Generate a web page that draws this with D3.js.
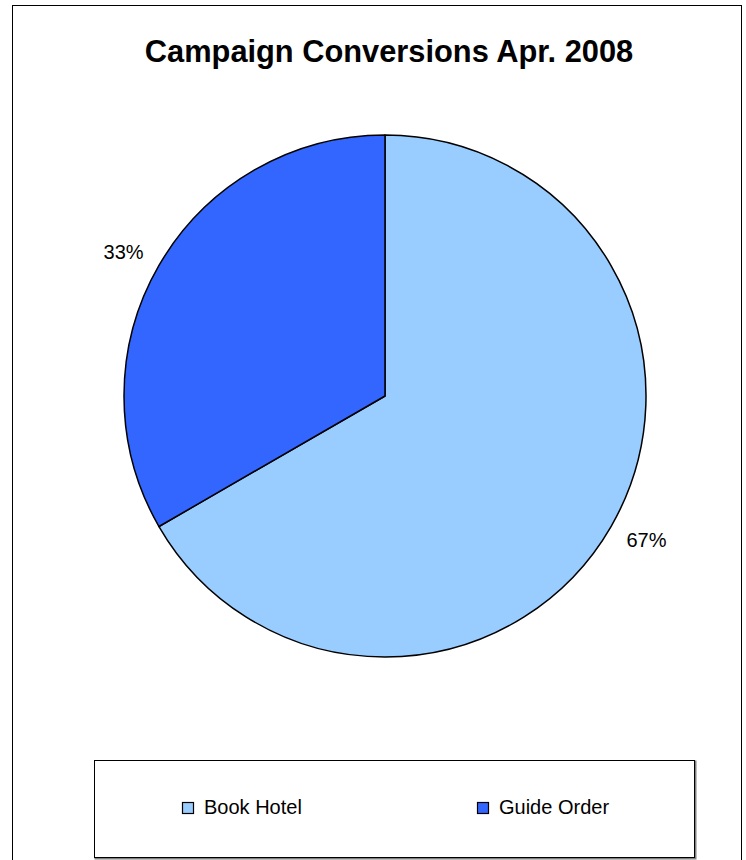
<!DOCTYPE html>
<html>
<head>
<meta charset="utf-8">
<script src="https://cdn.jsdelivr.net/npm/d3@7"></script>
<style>
  html, body { margin: 0; padding: 0; background: #fff; }
  svg { display: block; font-family: "Liberation Sans", Arial, sans-serif; }
</style>
</head>
<body>
<svg id="chart" width="746" height="860"></svg>
<script>
const title = "Campaign Conversions Apr. 2008";
const categories = ["Book Hotel", "Guide Order"];
const values = [134, 67];
const colors = ["#99CCFF", "#3366FF"];

const svg = d3.select("#chart");

// outer chart border
svg.append("rect")
  .attr("x", 12.5).attr("y", 5.5)
  .attr("width", 729).attr("height", 870)
  .attr("fill", "#fff").attr("stroke", "#000").attr("stroke-width", 1);

// title
svg.append("text")
  .attr("x", 389).attr("y", 62)
  .attr("text-anchor", "middle")
  .attr("font-size", 30.8).attr("font-weight", "bold")
  .attr("fill", "#000")
  .text(title);

const cx = 385, cy = 396, R = 261;
const data = categories.map((c, i) => ({ name: c, value: values[i], color: colors[i] }));
const total = d3.sum(values);

const pie = d3.pie().sort(null).value(d => d.value);
const arcs = pie(data);
const arc = d3.arc().innerRadius(0).outerRadius(R);
const labelArc = d3.arc().innerRadius(288).outerRadius(288);

const g = svg.append("g").attr("transform", `translate(${cx},${cy})`);
g.selectAll("path.slice")
  .data(arcs)
  .join("path")
  .attr("class", "slice")
  .attr("d", arc)
  .attr("fill", d => d.data.color)
  .attr("stroke", "#000")
  .attr("stroke-width", 1.5)
  .attr("stroke-linejoin", "round");

const fmt = d3.format(".0%");
g.selectAll("text.lbl")
  .data(arcs)
  .join("text")
  .attr("class", "lbl")
  .attr("transform", d => {
    const [x, y] = labelArc.centroid(d);
    return `translate(${x + Math.sign(x) * 12},${y})`;
  })
  .attr("text-anchor", "middle")
  .attr("dy", "0.35em")
  .attr("font-size", 20)
  .attr("fill", "#000")
  .text(d => fmt(d.data.value / total));

// legend
const lx = 94, ly = 760, lw = 600, lh = 97;
svg.append("rect")
  .attr("x", lx + 1.5).attr("y", ly + 1.5)
  .attr("width", lw).attr("height", lh)
  .attr("fill", "none").attr("stroke", "#808080").attr("stroke-width", 2);
svg.append("rect")
  .attr("x", lx + 0.5).attr("y", ly + 0.5)
  .attr("width", lw).attr("height", lh)
  .attr("fill", "#fff").attr("stroke", "#000").attr("stroke-width", 1);

const legendX = d3.scalePoint().domain(categories).range([182.5, 477.5]);
const lg = svg.append("g").selectAll("g")
  .data(data)
  .join("g")
  .attr("transform", d => `translate(${legendX(d.name)},802.5)`);
lg.append("rect")
  .attr("width", 11).attr("height", 11)
  .attr("fill", d => d.color)
  .attr("stroke", "#000").attr("stroke-width", 1.2);
lg.append("text")
  .attr("x", 21.5).attr("y", 11)
  .attr("font-size", 20)
  .attr("fill", "#000")
  .text(d => d.name);
</script>
</body>
</html>
